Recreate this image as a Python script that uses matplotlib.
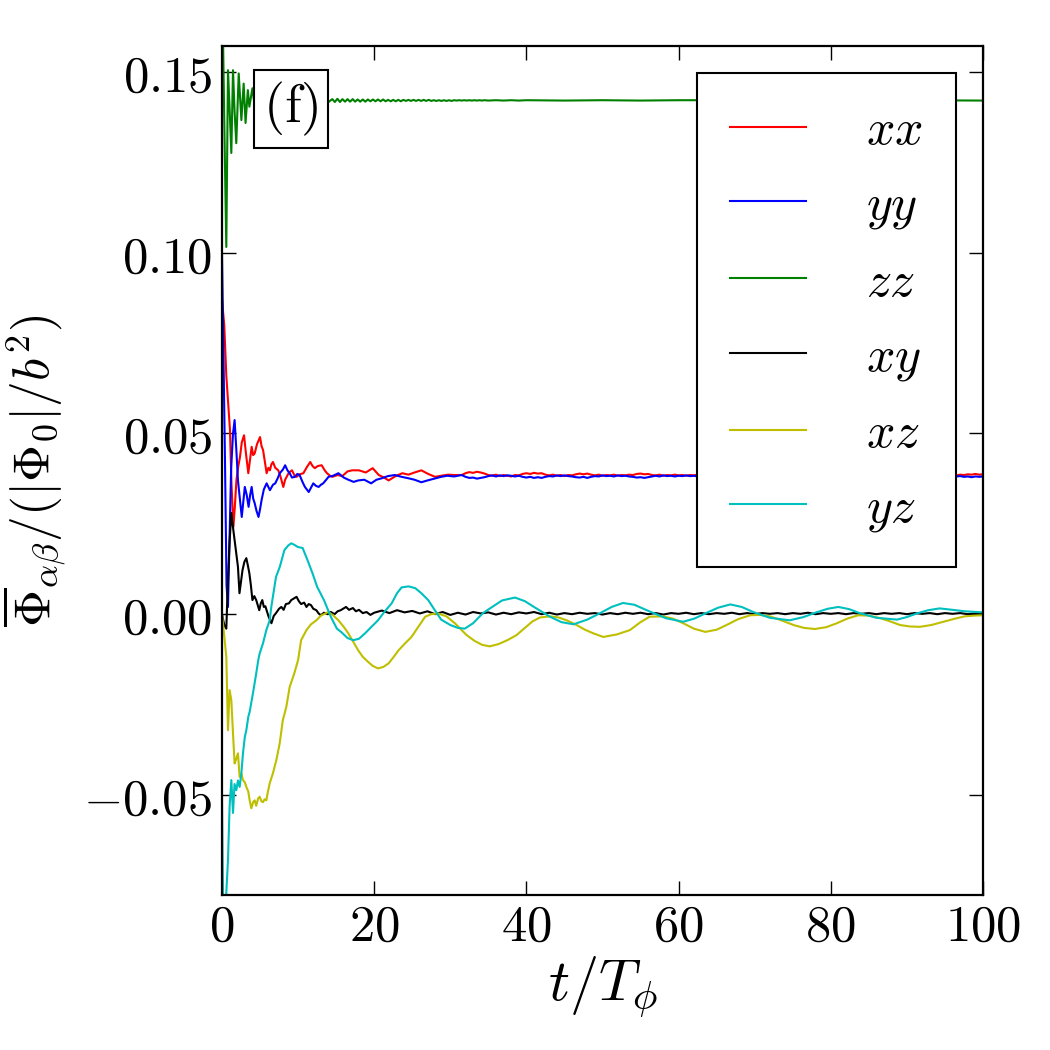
import matplotlib
matplotlib.use('Agg')
import matplotlib.pyplot as plt

plt.rcParams['mathtext.fontset'] = 'cm'

# ---------------- data ----------------
labels = [r'$xx$', r'$yy$', r'$zz$', r'$xy$', r'$xz$', r'$yz$']
colors = ['#ff0000', '#0000ff', '#008000', '#000000', '#bfbf00', '#00bfbf']

xx_t = [0, 0.3, 0.57, 0.8, 1.05, 1.25, 1.5, 1.7, 1.9, 2.15, 2.37, 2.6, 2.9, 3.15, 3.46, 3.7, 3.9, 4.1,
        4.3, 4.6, 5.0, 5.2, 5.4, 5.65, 5.87, 6.1, 6.3, 6.5, 6.7, 7.0, 7.4, 7.7, 8.06, 8.3, 8.5, 8.8,
        9.2, 9.5, 9.8, 10.2, 10.7, 11.1, 11.6, 11.9, 12.2, 12.6, 13.1, 13.5, 13.8, 14.2, 14.5, 15.2,
        15.8, 16.5, 17.1, 18.0, 18.9, 19.8, 20.6, 21.3, 21.9, 22.8, 23.7, 24.5, 25.3, 26.2, 27.1,
        28.0, 28.8, 29.7, 30.6, 31.5,
        32.0, 32.5, 33.0, 33.5, 34.0, 34.5, 35.0, 35.5, 36.0, 36.5, 37.0, 37.5, 38.0, 38.5, 39.0,
        39.5, 40.0, 40.5, 41.0, 41.5, 42.0, 42.5, 43.0, 43.5, 44.0, 44.5, 45.0, 45.5, 46.0, 46.5,
        47.0, 47.5, 48.0, 48.5, 49.0, 49.5, 50.0, 50.5, 51.0, 51.5, 52.0, 52.5, 53.0, 53.5, 54.0,
        54.5, 55.0, 55.5, 56.0, 56.5, 57.0, 57.5, 58.0, 58.5, 59.0, 59.5, 60.0, 60.5, 61.0, 61.5,
        62.0, 62.5, 64, 66, 68, 70, 72, 74, 76, 78, 80, 82, 84, 86, 88, 90, 92, 94, 96, 96.5, 97.0,
        97.5, 98.0, 98.5, 99.0, 99.5, 100]
xx_v = [0.087, 0.080, 0.066, 0.059, 0.051, 0.036, 0.0242, 0.030, 0.0371, 0.041, 0.0435, 0.0475, 0.0495,
        0.0445, 0.039, 0.043, 0.0463, 0.0440, 0.0445, 0.0470, 0.049, 0.0465, 0.0454, 0.0420, 0.039,
        0.0405, 0.0398, 0.0415, 0.0421, 0.0405, 0.0398, 0.0380, 0.0352, 0.0372, 0.038, 0.0392, 0.0398,
        0.0385, 0.038, 0.0387, 0.039, 0.0405, 0.0421, 0.0410, 0.0404, 0.0410, 0.0412, 0.0398, 0.039,
        0.0383, 0.038, 0.0385, 0.0382, 0.0395, 0.0398, 0.0398, 0.0392, 0.0404, 0.0385, 0.0378, 0.037,
        0.0382, 0.039, 0.0386, 0.0392, 0.0398, 0.0388, 0.038, 0.0383, 0.0386, 0.0385, 0.0385,
        0.0390, 0.0393, 0.0391, 0.0394, 0.0392, 0.0389, 0.0385, 0.0383, 0.0386, 0.0382, 0.0385, 0.0383,
        0.0381, 0.0385, 0.0384, 0.0388, 0.0390, 0.0388, 0.0391, 0.0389, 0.0390, 0.0386, 0.0384, 0.0386,
        0.0383, 0.0385, 0.0382, 0.0385, 0.0384, 0.0387, 0.0389, 0.0387, 0.0389, 0.0386, 0.0384, 0.0386,
        0.0383, 0.0385, 0.0384, 0.0386, 0.0383, 0.0385, 0.0384, 0.0386, 0.0385, 0.0388, 0.0389, 0.0387,
        0.0388, 0.0385, 0.0384, 0.0386, 0.0383, 0.0385, 0.0384, 0.0386, 0.0384, 0.0385, 0.0383, 0.0385,
        0.0384, 0.0386, 0.0385, 0.0384, 0.0386, 0.0385, 0.0384, 0.0385, 0.0386, 0.0384, 0.0385, 0.0385,
        0.0384, 0.0386, 0.0385, 0.0384, 0.0385, 0.0386, 0.0385, 0.0384, 0.0386, 0.0385, 0.0387, 0.0386,
        0.0388, 0.0386, 0.0387]

yy_t = [0, 0.2, 0.39, 0.6, 0.79, 1.0, 1.2, 1.45, 1.66, 1.9, 2.1, 2.35, 2.6, 2.8, 3.0, 3.25, 3.5, 3.7,
        3.9, 4.1, 4.3, 4.55, 4.8, 5.0, 5.2, 5.5, 5.87, 6.1, 6.3, 6.7, 7.0, 7.3, 7.6, 8.0, 8.3, 8.6,
        8.9, 9.2, 9.6, 9.9, 10.2, 10.6, 10.9, 11.15, 11.4, 11.7, 12.0, 12.35, 12.7, 13.0, 13.3, 13.7,
        14.0, 14.6, 15.3, 16.0, 16.6, 17.3, 17.9, 18.7, 19.6, 20.3, 21.0, 21.8, 22.7, 23.6, 24.5,
        25.3, 26.2, 27.0, 27.9, 28.8, 29.6, 30.5, 31.5,
        32.0, 32.5, 33.0, 33.5, 34.0, 34.5, 35.0, 35.5, 36.0, 36.5, 37.0, 37.5, 38.0, 38.5, 39.0,
        39.5, 40.0, 40.5, 41.0, 41.5, 42.0, 42.5, 43.0, 43.5, 44.0, 44.5, 45.0, 45.5, 46.0, 46.5,
        47.0, 47.5, 48.0, 48.5, 49.0, 49.5, 50.0, 50.5, 51.0, 51.5, 52.0, 52.5, 53.0, 53.5, 54.0,
        54.5, 55.0, 55.5, 56.0, 56.5, 57.0, 57.5, 58.0, 58.5, 59.0, 59.5, 60.0, 60.5, 61.0, 61.5,
        62.0, 62.5, 64, 66, 68, 70, 72, 74, 76, 78, 80, 82, 84, 86, 88, 90, 92, 94, 96, 96.5, 97.0,
        97.5, 98.0, 98.5, 99.0, 99.5, 100]
yy_v = [0.100, 0.072, 0.0435, 0.008, 0.002, 0.022, 0.040, 0.050, 0.0537, 0.045, 0.037, 0.032, 0.0269,
        0.031, 0.0352, 0.033, 0.0297, 0.033, 0.0352, 0.0320, 0.0307, 0.0285, 0.0269, 0.029, 0.0315,
        0.0345, 0.0362, 0.0352, 0.0343, 0.0358, 0.0362, 0.0375, 0.039, 0.0400, 0.0412, 0.0398, 0.039,
        0.0378, 0.038, 0.0388, 0.0385, 0.0365, 0.0352, 0.0345, 0.0338, 0.0350, 0.0362, 0.0355, 0.0352,
        0.0358, 0.0362, 0.0372, 0.038, 0.0383, 0.039, 0.0378, 0.0372, 0.0366, 0.037, 0.0372, 0.0362,
        0.0372, 0.0376, 0.0382, 0.0385, 0.0380, 0.0376, 0.0372, 0.0365, 0.0370, 0.0375, 0.0380, 0.0383,
        0.0381, 0.0385,
        0.0380, 0.0377, 0.0378, 0.0375, 0.0377, 0.0379, 0.0382, 0.0384, 0.0381, 0.0384, 0.0382, 0.0384,
        0.0383, 0.0381, 0.0383, 0.0380, 0.0378, 0.0380, 0.0377, 0.0379, 0.0377, 0.0380, 0.0382, 0.0381,
        0.0384, 0.0382, 0.0384, 0.0382, 0.0381, 0.0379, 0.0378, 0.0380, 0.0377, 0.0380, 0.0382, 0.0381,
        0.0384, 0.0382, 0.0383, 0.0381, 0.0384, 0.0382, 0.0383, 0.0381, 0.0380, 0.0378, 0.0379, 0.0377,
        0.0379, 0.0381, 0.0383, 0.0381, 0.0384, 0.0382, 0.0383, 0.0381, 0.0383, 0.0382, 0.0384, 0.0382,
        0.0383, 0.0381, 0.0382, 0.0383, 0.0381, 0.0382, 0.0383, 0.0382, 0.0381, 0.0383, 0.0382, 0.0381,
        0.0383, 0.0382, 0.0381, 0.0382, 0.0383, 0.0382, 0.0382, 0.0381, 0.0382, 0.0380, 0.0381, 0.0379,
        0.0381, 0.0380, 0.0381]

zz_t = [0, 0.15, 0.35, 0.57, 0.79, 1.0, 1.23, 1.45, 1.66, 1.88, 2.2, 2.55, 2.85, 3.1, 3.4, 3.6, 4.0,
        4.4, 4.8, 5.2, 5.6, 6.0, 6.5, 7.0, 7.5, 8.0, 8.5, 9.0, 9.5, 10.0, 10.5, 11.0, 11.5, 12.0,
        12.5, 13.0, 13.5, 14.0,
        14.50, 14.83, 15.17, 15.50, 15.83, 16.17, 16.50, 16.83, 17.17, 17.50,
        17.83, 18.17, 18.50, 18.83, 19.17, 19.50, 19.83, 20.17, 20.50, 20.83,
        21.17, 21.50, 21.83, 22.17, 22.50, 22.83, 23.17, 23.50, 23.83, 24.17,
        24.50, 24.83, 25.17, 25.50, 25.83, 26.17, 26.50, 26.83, 27.17, 27.50,
        27.83, 28.17, 28.50, 28.83, 29.17, 29.50, 29.83, 30.17, 30.50, 30.83,
        31.17, 31.50, 31.83, 32.17, 32.50, 32.83, 33.17, 33.50, 33.83, 34.17,
        34.50, 35.0, 36.0, 37.0, 38.0, 39.0, 40.0,
        45, 50, 55, 60, 70, 80, 90, 100]
zz_v = [0.165, 0.158, 0.130, 0.1016, 0.1505, 0.140, 0.1276, 0.1505, 0.139, 0.1303, 0.1496, 0.1367,
        0.1468, 0.1359, 0.145, 0.1404, 0.1455, 0.1390, 0.1448, 0.1396, 0.1442, 0.1401, 0.1438, 0.1405,
        0.1435, 0.1408, 0.1432, 0.1410, 0.1430, 0.1412, 0.1428, 0.1414, 0.1427, 0.1415, 0.1426, 0.1416,
        0.1425, 0.1417,
        0.1425, 0.1417, 0.1426, 0.1417, 0.1425, 0.1418, 0.1425, 0.1418, 0.1425, 0.1418,
        0.1424, 0.1418, 0.1424, 0.1418, 0.1424, 0.1419, 0.1424, 0.1419, 0.1424, 0.1419,
        0.1424, 0.1419, 0.1423, 0.1419, 0.1423, 0.1419, 0.1423, 0.1419, 0.1423, 0.1420,
        0.1423, 0.1420, 0.1423, 0.1420, 0.1423, 0.1420, 0.1423, 0.1420, 0.1423, 0.1420,
        0.1422, 0.1420, 0.1422, 0.1420, 0.1422, 0.1420, 0.1422, 0.1420, 0.1422, 0.1421,
        0.1422, 0.1421, 0.1422, 0.1421, 0.1422, 0.1421, 0.1422, 0.1421, 0.1422, 0.1421,
        0.1422, 0.1421, 0.1422, 0.1421, 0.1422, 0.1421, 0.1422,
        0.1421, 0.1422, 0.1421, 0.1422, 0.1422, 0.1421, 0.1422, 0.1421]

xy_t = [0, 0.3, 0.57, 0.8, 1.0, 1.23, 1.45, 1.66, 1.9, 2.1, 2.3, 2.5, 2.7, 2.95, 3.2, 3.4, 3.6, 3.8,
        4.0, 4.25, 4.5, 4.7, 4.9, 5.1, 5.3, 5.5, 5.7, 6.1, 6.5, 6.8, 7.1, 7.5, 7.8, 8.1, 8.4, 8.8,
        9.1, 9.5, 9.8, 10.1, 10.4, 10.8, 11.1, 11.4, 11.7, 12.0, 12.4, 12.7, 13.0, 13.4, 13.9, 14.3,
        14.8, 15.2, 15.6, 16.0, 16.3, 16.7, 17.2, 17.6, 18.0, 18.5, 19.0, 19.5,
        20, 21, 22, 23, 24, 25, 26, 27, 28, 29, 30, 31, 32, 33, 34, 35, 36, 37, 38, 39, 40, 41, 42,
        43, 44, 45, 46, 47, 48, 49, 50, 51, 52, 53, 54, 55, 56, 57, 58, 59, 60, 61, 62, 63, 64, 65,
        66, 67, 68, 69, 70, 71, 72, 73, 74, 75, 76, 77, 78, 79, 80, 81, 82, 83, 84, 85, 86, 87, 88,
        89, 90, 91, 92, 93, 94, 95, 96, 97, 98, 99, 100]
xy_v = [0.0, -0.003, -0.004, 0.010, 0.020, 0.028, 0.024, 0.0205, 0.0165, 0.0131, 0.0058, 0.009, 0.0122,
        0.0145, 0.0155, 0.0135, 0.0113, 0.008, 0.0039, 0.0050, 0.0039, 0.0025, 0.0011, 0.0030, 0.0039,
        0.0020, 0.0022, -0.0005, -0.0025, -0.0005, 0.0003, 0.0015, 0.0020, 0.0012, 0.0028, 0.0030,
        0.0039, 0.0044, 0.0048, 0.0036, 0.0028, 0.0032, 0.0020, 0.0028, 0.0025, 0.0015, 0.0011, 0.0002,
        -0.0003, 0.0004, 0.0, 0.0006, 0.0, 0.0008, 0.0011, 0.0016, 0.0020, 0.0012, 0.0017, 0.0008,
        0.0012, 0.0003, 0.0006, -0.0002,
        0.0004, 0.0010, 0.0003, 0.0011, 0.0005, 0.0009, 0.0002, 0.0008, 0.0000, 0.0006, -0.0002, 0.0004,
        -0.0001, 0.0006, 0.0002, 0.0005, -0.0001, 0.0004, 0.0000, 0.0005, 0.0002, 0.0006, 0.0000, 0.0004,
        -0.0001, 0.0003, 0.0000, 0.0004, 0.0001, 0.0003, -0.0001, 0.0003, 0.0000, 0.0004, 0.0001, 0.0004,
        0.0000, 0.0003, -0.0001, 0.0003, 0.0001, 0.0004, 0.0000, 0.0003, 0.0000, 0.0003, 0.0001, 0.0004,
        0.0000, 0.0003, 0.0000, 0.0003, 0.0001, 0.0003, 0.0000, 0.0003, 0.0001, 0.0004, 0.0000, 0.0003,
        0.0001, 0.0003, 0.0000, 0.0003, 0.0001, 0.0003, 0.0000, 0.0003, 0.0001, 0.0003, 0.0000, 0.0003,
        0.0001, 0.0003, 0.0000, 0.0003, 0.0001, 0.0003, 0.0000, 0.0002, 0.0001]

xz_t = [0, 0.3, 0.57, 0.79, 1.0, 1.23, 1.45, 1.66, 1.88, 2.1, 2.32, 2.55, 2.76, 3.0, 3.2, 3.45, 3.64,
        3.86, 4.1, 4.3, 4.5, 4.75, 4.95, 5.2, 5.4, 5.6, 5.83, 6.05, 6.27, 6.7, 7.14, 7.58, 8.0, 8.45,
        8.9, 9.5, 10.0, 10.4, 11.1, 11.7, 12.4, 13.0, 13.97, 14.6, 15.3, 16.0, 16.6, 17.3, 17.9, 18.5,
        19.2, 19.8, 20.5, 21.2, 21.9, 22.5, 23.2, 24.0, 24.9, 25.8, 26.7, 27.5, 28.4, 29.5, 30.6,
        31.4, 32.15, 33.2, 34.2, 35.2, 36.3, 37.5, 38.7, 39.8, 40.8, 41.8, 43.1, 44.2, 45.3, 46.6,
        47.7, 48.8, 50.1, 51.9, 53.6, 55.0, 56.2, 57.9, 59.2, 60.6, 62.0, 63.5, 65.0, 66.3, 67.8,
        69.4, 70.7, 72.0, 73.5, 75.1, 76.5, 77.9, 79.4, 80.8, 82.2, 83.6, 85.0, 86.5, 87.8, 89.1,
        90.4, 91.7, 93.2, 94.8, 96.2, 97.6, 98.8, 100]
xz_v = [0.0, -0.006, -0.0118, -0.0321, -0.021, -0.0238, -0.033, -0.0413, -0.040, -0.0385, -0.045,
        -0.044, -0.0459, -0.0465, -0.0478, -0.049, -0.0515, -0.0537, -0.052, -0.0515, -0.053, -0.051,
        -0.0505, -0.0518, -0.052, -0.0512, -0.0515, -0.049, -0.0468, -0.044, -0.0404, -0.0358, -0.0293,
        -0.0257, -0.0201, -0.0164, -0.0127, -0.0072, -0.0044, -0.0028, -0.0017, -0.0004, 0.0006,
        -0.0003, -0.0017, -0.0035, -0.0053, -0.0078, -0.0100, -0.0118, -0.0132, -0.0143, -0.0150,
        -0.0146, -0.0136, -0.0120, -0.0100, -0.0082, -0.0063, -0.0035, -0.0007, 0.0000, 0.0002,
        -0.0006, -0.0025, -0.0042, -0.0058, -0.0074, -0.0085, -0.0089, -0.0083, -0.0072, -0.0058,
        -0.0038, -0.0020, -0.0009, -0.0006, -0.0009, -0.0017, -0.0030, -0.0043, -0.0053, -0.0063,
        -0.0056, -0.0044, -0.0022, -0.0007, -0.0006, -0.0012, -0.0025, -0.0040, -0.0049, -0.0043,
        -0.0030, -0.0014, -0.0003, -0.0002, -0.0006, -0.0017, -0.0030, -0.0038, -0.0041, -0.0036,
        -0.0025, -0.0012, -0.0003, -0.0004, -0.0011, -0.0020, -0.0030, -0.0034, -0.0035, -0.0030,
        -0.0021, -0.0013, -0.0006, -0.0004, -0.0003]

yz_t = [0, 0.2, 0.45, 0.79, 1.0, 1.23, 1.45, 1.65, 1.88, 2.1, 2.32, 2.55, 2.76, 3.0, 3.2, 3.46, 3.64,
        4.07, 4.5, 4.77, 4.95, 5.4, 5.83, 6.27, 6.48, 7.1, 7.6, 8.2, 8.7, 9.1, 9.5, 9.95, 10.6, 11.25,
        11.9, 12.5, 13.4, 14.3, 15.1, 15.7, 16.5, 17.25, 18.0, 18.8, 19.6, 20.5, 21.4, 22.3, 23.0,
        23.6, 24.5, 25.4, 26.2, 27.1, 28.0, 28.8, 30.0, 31.0, 31.9, 33.0, 34.3, 35.5, 36.8, 38.5,
        39.8, 41.0, 43.1, 44.6, 46.2, 48.0, 49.7, 51.2, 52.7, 54.2, 55.7, 58.3, 60.6, 62.1, 63.6,
        65.2, 66.8, 68.3, 69.8, 72.0, 74.6, 76.4, 78.1, 79.6, 81.0, 82.4, 83.8, 86.0, 88.7, 90.0,
        91.3, 92.8, 94.3, 96.0, 97.6, 100]
yz_v = [-0.050, -0.090, -0.082, -0.068, -0.0533, -0.0459, -0.055, -0.047, -0.0487, -0.046, -0.0478,
        -0.044, -0.0385, -0.034, -0.0321, -0.0284, -0.027, -0.0219, -0.0164, -0.0127, -0.0109, -0.008,
        -0.0044, -0.0017, 0.002, 0.0103, 0.0131, 0.0177, 0.0190, 0.0196, 0.0192, 0.0186, 0.0183,
        0.0149, 0.0113, 0.0076, 0.0039, -0.0007, -0.0040, -0.0050, -0.0066, -0.0072, -0.0068, -0.0053,
        -0.0036, -0.0017, 0.0008, 0.0030, 0.0058, 0.0074, 0.0077, 0.0072, 0.0058, 0.0039, 0.0010,
        -0.0015, -0.0030, -0.0038, -0.0040, -0.0025, 0.0003, 0.0020, 0.0038, 0.0046, 0.0036, 0.0020,
        -0.0007, -0.0022, -0.0028, -0.0015, 0.0003, 0.0020, 0.0031, 0.0026, 0.0012, -0.0011, -0.0021,
        -0.0012, 0.0003, 0.0018, 0.0027, 0.0020, 0.0006, -0.0010, -0.0017, -0.0008, 0.0005, 0.0015,
        0.0020, 0.0014, 0.0003, -0.0010, -0.0015, -0.0008, 0.0002, 0.0011, 0.0016, 0.0012, 0.0008,
        0.0005]

x_ticks = [0, 20, 40, 60, 80, 100]
x_tick_labels = [r'$0$', r'$20$', r'$40$', r'$60$', r'$80$', r'$100$']
y_ticks = [-0.05, 0.0, 0.05, 0.10, 0.15]
y_tick_labels = [r'$-0.05$', r'$0.00$', r'$0.05$', r'$0.10$', r'$0.15$']

# ---------------- figure ----------------
fig = plt.figure(figsize=(10.5, 10.5), dpi=100)
ax = fig.add_axes([0.2114, 0.1476, 0.7248, 0.8086])

series = [(xx_t, xx_v), (yy_t, yy_v), (zz_t, zz_v), (xy_t, xy_v), (xz_t, xz_v), (yz_t, yz_v)]
for (t, v), lab, col in zip(series, labels, colors):
    ax.plot(t, v, color=col, lw=1.5, label=lab)

ax.set_xlim(0, 100)
ax.set_ylim(-0.0777, 0.1572)
ax.set_xticks(x_ticks)
ax.set_xticklabels(x_tick_labels)
ax.set_yticks(y_ticks)
ax.set_yticklabels(y_tick_labels)
ax.tick_params(direction='in', length=10, width=1, top=True, right=True, labelsize=36.5)
ax.tick_params(axis='x', pad=5)
ax.tick_params(axis='y', pad=7)
for sp in ax.spines.values():
    sp.set_linewidth(1.6)

ax.set_xlabel(r'$t/T_\phi$', fontsize=42, labelpad=2)
ax.set_ylabel(r'$\overline{\Phi}_{\alpha\beta}/(|\Phi_0|/b^2)$', fontsize=37, labelpad=10)

leg = ax.legend(loc='upper right', bbox_to_anchor=(0.9645, 0.968), borderaxespad=0,
                fontsize=36, handlelength=1.52, handletextpad=1.2, labelspacing=0.53,
                borderpad=0.66, fancybox=False, framealpha=1, edgecolor='k')
leg.get_frame().set_linewidth(1.5)

ax.text(0.0907, 0.926, r'$\mathrm{(f)}$', transform=ax.transAxes, fontsize=39,
        ha='center', va='center', zorder=5,
        bbox=dict(boxstyle='square,pad=0.18', facecolor='white', edgecolor='k', linewidth=1.5))

fig.savefig('out.png', dpi=100)
